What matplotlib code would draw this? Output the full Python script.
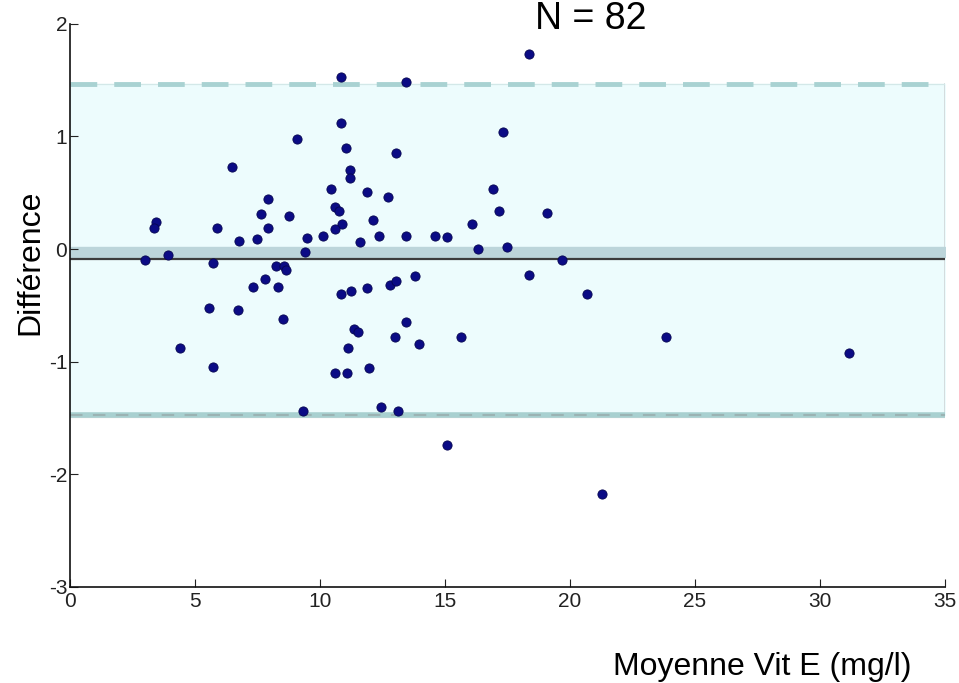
import matplotlib.pyplot as plt
import numpy as np

plt.rcParams['font.family'] = ['Liberation Sans', 'DejaVu Sans']
plt.rcParams['axes.unicode_minus'] = False

# Bland-Altman data: mean of the two methods vs difference
moyenne = [3.00, 3.44, 3.36, 3.91, 4.40, 5.57, 5.73, 5.73, 5.87, 6.49,
           6.77, 6.71, 7.33, 7.47, 7.64, 7.79, 7.93, 7.93, 8.23, 8.33,
           8.56, 8.63, 8.54, 8.78, 9.07, 9.31, 9.40, 9.47, 10.13, 10.45,
           10.60, 10.62, 10.77, 10.87, 10.61, 10.84, 10.83, 10.83, 11.03, 11.07,
           11.14, 11.20, 11.21, 11.23, 11.36, 11.53, 11.60, 11.89, 11.90, 11.97,
           12.12, 12.36, 12.43, 12.73, 12.80, 13.04, 13.00, 13.04, 13.12, 13.43,
           13.43, 13.43, 13.95, 13.81, 14.60, 15.10, 15.09, 15.64, 16.09, 16.33,
           16.93, 17.17, 17.34, 17.47, 18.37, 18.37, 19.07, 19.67, 20.67, 21.27,
           23.87, 31.17]
difference = [-0.10, 0.24, 0.19, -0.05, -0.88, -0.52, -0.12, -1.05, 0.19, 0.73,
              0.07, -0.54, -0.34, 0.09, 0.31, -0.27, 0.19, 0.44, -0.15, -0.34,
              -0.15, -0.19, -0.62, 0.29, 0.98, -1.44, -0.03, 0.10, 0.12, 0.53,
              -1.10, 0.37, 0.34, 0.22, 0.18, -0.40, 1.53, 1.12, 0.90, -1.10,
              -0.88, 0.70, 0.63, -0.37, -0.71, -0.74, 0.06, 0.51, -0.35, -1.06,
              0.26, 0.12, -1.40, 0.46, -0.32, -0.28, -0.78, 0.85, -1.44, 1.48,
              0.12, -0.65, -0.84, -0.24, 0.12, 0.11, -1.74, -0.78, 0.22, 0.00,
              0.53, 0.34, 1.04, 0.02, 1.73, -0.23, 0.32, -0.10, -0.40, -2.18,
              -0.78, -0.92]

biais = -0.092
limite_haute = 1.467
limite_basse = -1.475
bande_biais = (-0.07, 0.02)
n_obs = len(moyenne)

x_ticks = [0, 5, 10, 15, 20, 25, 30, 35]
y_ticks = [-3, -2, -1, 0, 1, 2]

fig = plt.figure(figsize=(9.59, 6.83), dpi=100)
ax = fig.add_axes([0.073, 0.141, 0.912, 0.824])

x0, x1 = x_ticks[0], x_ticks[-1]

# zone of agreement
ax.fill_between([x0, x1], limite_basse, limite_haute, color='#edfcfd', zorder=0)
ax.plot([x1, x1], [limite_basse, limite_haute], color='#cfd6d8', lw=1.2, zorder=1)

# limits of agreement
ax.plot([x0, x1], [limite_haute] * 2, color='#d3e8e8', lw=0.9, zorder=1)
ax.plot([x0, x1], [limite_haute] * 2, color='#a9d2d2', lw=3.5,
        dashes=(5.5, 3.5), zorder=1)
ax.plot([x0, x1], [limite_basse - 0.012] * 2, color='#dadada', lw=3, zorder=1)
ax.plot([x0, x1], [limite_basse] * 2, color='#a8d0d0', lw=4, zorder=1)
ax.plot([x0, x1], [limite_basse] * 2, color='#9bb3b3', lw=1.5,
        dashes=(6, 5), zorder=1)

# bias band and line
ax.fill_between([x0, x1], bande_biais[0], bande_biais[1], color='#bcd5da', zorder=1)
ax.plot([x0, x1], [biais] * 2, color='#3c3c3c', lw=1.6, zorder=2)

ax.scatter(moyenne, difference, s=44, color='#0b0b85', edgecolors='#050550',
           linewidths=0.6, zorder=3)

ax.set_xlim(x0, x1)
ax.set_ylim(y_ticks[0], y_ticks[-1])
ax.set_xticks(x_ticks)
ax.set_yticks(y_ticks)
ax.tick_params(direction='in', length=6, labelsize=15, colors='#222222')
ax.tick_params(axis='y', pad=2)
for side in ['top', 'right']:
    ax.spines[side].set_visible(False)
for side in ['left', 'bottom']:
    ax.spines[side].set_linewidth(1.2)
    ax.spines[side].set_color('#111111')
ax.set_facecolor('white')

fig.text(0.616, 1 - 29 / 683, 'N = %d' % n_obs, fontsize=27, ha='center',
         va='baseline')
fig.text(0.795, 1 - 667 / 683, 'Moyenne Vit E (mg/l)', fontsize=23,
         ha='center', va='center')
fig.text(0.032, 1 - 262 / 683, 'Différence', fontsize=23, rotation=90,
         ha='center', va='center')

fig.savefig('out.png', dpi=100)
